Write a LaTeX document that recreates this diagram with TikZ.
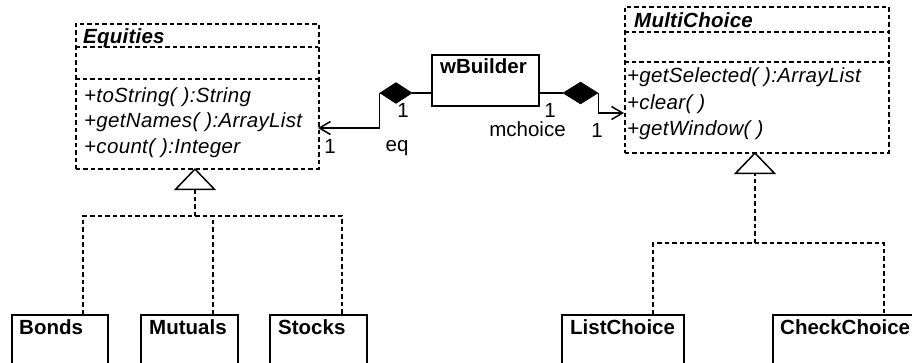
\documentclass[tikz,border=0pt]{standalone}
\usepackage{fontspec}
\setmainfont{Liberation Sans}
\usetikzlibrary{arrows.meta,shapes.geometric}
\begin{document}
\begin{tikzpicture}[x=1pt,y=-1pt,
 every node/.style={font=\fontsize{20.5}{24}\selectfont},
 solidbox/.style={draw, line width=1.5pt, inner sep=0pt, anchor=north west},
 dashbox/.style={draw, line width=1.5pt, dash pattern=on 4.5pt off 3pt, inner sep=0pt, anchor=north west},
 dashln/.style={line width=1.5pt, dash pattern=on 4.5pt off 3pt},
 ttl/.style={anchor=base west, font=\fontsize{20.5}{24}\selectfont\bfseries, inner sep=0pt},
 ittl/.style={anchor=base west, font=\fontsize{20.5}{24}\selectfont\bfseries\itshape\addfontfeature{LetterSpace=1.2}, inner sep=0pt},
 meth/.style={anchor=base west, font=\fontsize{20.5}{24}\selectfont\itshape\addfontfeature{LetterSpace=1.6}, inner sep=0pt},
 lbl/.style={anchor=base, inner sep=0pt},
 comp/.style={diamond, fill=black, draw=black, line width=0.6pt, inner sep=0pt},
 assoc/.style={line width=1.5pt, -{Straight Barb[length=11pt,width=13pt]}},
 real/.style={dashln, -{Triangle[open,length=22pt,width=42pt]}},
]
\useasboundingbox (0,0) rectangle (912,362);
\clip (0,0) rectangle (912,362);
\fill[white] (0,0) rectangle (912,362);

% Equities
\node[dashbox, minimum width=243pt, minimum height=145pt] (eq) at (75,23) {};
\draw[dashln] (75,47) -- (318,47);
\draw[dashln] (75,79) -- (318,79);
\node[ittl] (eqt) at (83,43) {Equities};
\node[meth] (eqm1) at (84,102) {+toString( ):String};
\node[meth] (eqm2) at (84,127.5) {+getNames( ):ArrayList};
\node[meth] (eqm3) at (84,153) {+count( ):Integer};

% MultiChoice
\node[dashbox, minimum width=264pt, minimum height=146pt] (mc) at (624,6) {};
\draw[dashln] (624,32) -- (888,32);
\draw[dashln] (624,62) -- (888,62);
\node[ittl] (mct) at (634,27) {MultiChoice};
\node[meth] (mcm1) at (627,82) {+getSelected( ):ArrayList};
\node[meth] (mcm2) at (627,109) {+clear( )};
\node[meth] (mcm3) at (627,135) {+getWindow( )};

% wBuilder
\node[solidbox, minimum width=107pt, minimum height=51pt] (wb) at (431,54) {};
\node[ttl] (wbt) at (440,73) {wBuilder};

% subclasses
\node[solidbox, minimum width=96pt, minimum height=80pt] (bonds) at (11,314) {};
\node[ttl] (bondst) at (19,334) {Bonds};
\node[solidbox, minimum width=97pt, minimum height=80pt] (mutuals) at (140,314) {};
\node[ttl] (mutualst) at (149,334) {Mutuals};
\node[solidbox, minimum width=97pt, minimum height=80pt] (stocks) at (269,314) {};
\node[ttl] (stockst) at (278,334) {Stocks};
\node[solidbox, minimum width=122pt, minimum height=80pt] (lc) at (561,314) {};
\node[ttl] (lct) at (570,334) {ListChoice};
\node[solidbox, minimum width=160pt, minimum height=80pt] (cc) at (772,314) {};
\node[ttl] (cct) at (780,334) {CheckChoice};

% compositions
\node[comp, minimum width=32pt, minimum height=21pt] (dL) at (396,93) {};
\node[comp, minimum width=35pt, minimum height=22pt] (dR) at (580.5,93) {};
\coordinate (wbL) at (431,93);
\coordinate (wbR) at (538,93);
\coordinate (eqR) at (318,128);
\coordinate (mcL) at (624,113);
\draw[line width=1.5pt] (wbL) -- (dL.east);
\draw[assoc] (dL.west) |- (eqR);
\draw[line width=1.5pt] (wbR) -- (dR.west);
\draw[assoc] (dR.east) |- (mcL);
\node[lbl] (l1) at (403,117) {1};
\node[lbl] (leq) at (397,151) {eq};
\node[lbl] (l2) at (330,153) {1};
\node[lbl] (l3) at (550,117) {1};
\node[lbl] (lmc) at (527.5,136) {mchoice};
\node[lbl] (l4) at (597,137) {1};

% realization trees
\coordinate (eqB) at (195,168);
\coordinate (eqJ) at (195,216);
\coordinate (bT) at (83,314);
\coordinate (mT) at (213,314);
\coordinate (sT) at (342,314);
\draw[dashln] (bT) |- (sT |- eqJ) -- (sT);
\draw[dashln] (mT) -- (mT |- eqJ);
\draw[real] (eqJ) -- (eqB);

\coordinate (mcB) at (755,152);
\coordinate (mcJ) at (755,243);
\coordinate (lT) at (653,314);
\coordinate (cT) at (884,314);
\draw[dashln] (lT) |- (cT |- mcJ) -- (cT);
\draw[real] (mcJ) -- (mcB);
\end{tikzpicture}
\end{document}
